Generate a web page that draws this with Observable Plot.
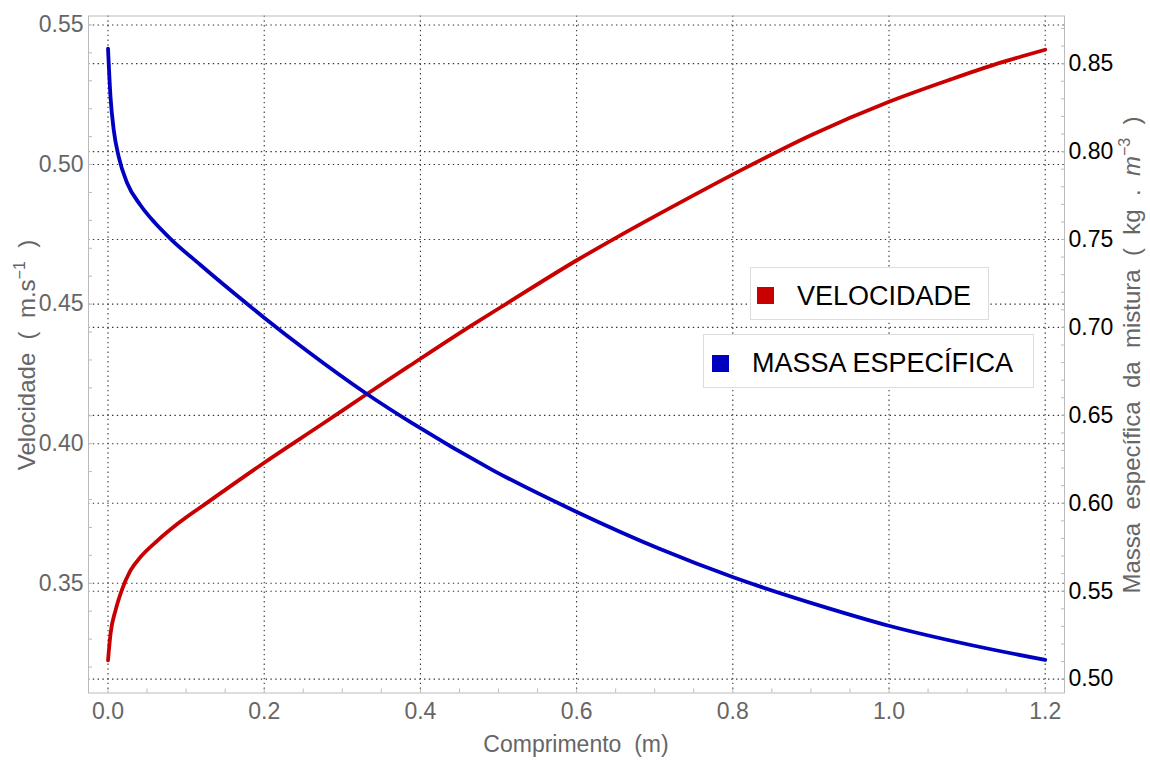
<!DOCTYPE html>
<html><head><meta charset="utf-8">
<script src="https://cdn.jsdelivr.net/npm/d3@7"></script>
<script src="https://cdn.jsdelivr.net/npm/@observablehq/plot@0.6"></script>
<style>
html,body{margin:0;padding:0;background:#fff;}
#wrap{position:relative;width:1150px;height:760px;}
svg text{white-space:pre;}
</style></head><body><div id="wrap"></div>
<script>
// Velocidade (left axis)
const comprimentoV = [0, 0.0032, 0.0096, 0.018, 0.0288, 0.0416, 0.063, 0.0886, 0.127, 0.1995, 0.2763, 0.332, 0.3873, 0.4641, 0.511, 0.6008, 0.652, 0.7288, 0.81, 0.9, 1.0, 1.079, 1.134, 1.2];
const velocidade   = [0.3224, 0.3319, 0.3403, 0.3478, 0.3546, 0.3594, 0.3652, 0.3712, 0.3789, 0.3931, 0.4074, 0.4179, 0.4281, 0.4421, 0.4503, 0.4658, 0.4740, 0.4858, 0.4979, 0.5105, 0.5225, 0.5305, 0.5357, 0.5411];
// Massa específica (right axis)
const comprimentoM = [0, 0.0032, 0.0074, 0.0138, 0.0246, 0.0416, 0.06, 0.08, 0.1184, 0.1654, 0.1995, 0.255, 0.332, 0.3873, 0.4936, 0.6009, 0.7061, 0.8006, 0.9187, 1.001, 1.1046, 1.2];
const massaEspecifica = [0.8585, 0.8309, 0.812, 0.7968, 0.782, 0.7695, 0.7595, 0.7504, 0.7355, 0.7180, 0.7057, 0.6866, 0.6620, 0.6461, 0.6186, 0.5949, 0.5741, 0.5579, 0.5408, 0.5302, 0.5194, 0.5109];

const xTicks = [0, 0.2, 0.4, 0.6, 0.8, 1.0, 1.2];
const velTicks = [0.35, 0.40, 0.45, 0.50, 0.55];
const massaTicks = [0.50, 0.55, 0.60, 0.65, 0.70, 0.75, 0.80, 0.85];
const velMinor = d3.range(0.32, 0.555, 0.01);
const massaMinor = d3.range(0.50, 0.875, 0.01);
const xMinor = d3.range(0, 1.22, 0.05);

const xDomain = [-0.025, 1.2247];
const velDomain = [0.3107, 0.5532];
const massaDomain = [0.4921, 0.8771];

const legendLabels = ["VELOCIDADE", "MASSA ESPECÍFICA"];
const colors = ["#c80000", "#0000c0"];

const toVel = d3.scaleLinear(massaDomain, velDomain);
const velData = comprimentoV.map((x, i) => ({x, v: velocidade[i]}));
const massaData = comprimentoM.map((x, i) => ({x, m: massaEspecifica[i]}));

const font = "'Liberation Sans', Arial, sans-serif";
const grid = {stroke: "#333", strokeDasharray: "1.4,3.4", strokeWidth: 1.1};

const plot = Plot.plot({
  width: 1150, height: 760,
  marginLeft: 88, marginRight: 86, marginTop: 15.5, marginBottom: 67.5,
  x: {domain: xDomain},
  y: {domain: velDomain},
  style: {fontFamily: font, background: "#fff", overflow: "visible"},
  marks: [
    Plot.ruleX(xTicks, grid),
    Plot.ruleY(velTicks, grid),
    Plot.ruleY(massaTicks.map(toVel), grid),
    Plot.frame({stroke: "#bbb", strokeWidth: 1}),
    Plot.axisY(velMinor, {anchor: "left", tickSize: 4, dx: 4, text: null, stroke: "#bbb", label: null}),
    Plot.axisY(massaMinor.map(toVel), {anchor: "right", tickSize: 4, dx: -4, text: null, stroke: "#bbb", label: null}),
    Plot.axisX(xMinor, {anchor: "bottom", tickSize: 4, dy: -4, text: null, stroke: "#bbb", label: null}),
    Plot.line(velData, {x: "x", y: "v", stroke: colors[0], strokeWidth: 3.8, curve: "monotone-x"}),
    Plot.line(massaData, {x: "x", y: d => toVel(d.m), stroke: colors[1], strokeWidth: 3.8, curve: "monotone-x"}),
    Plot.axisY(velTicks, {anchor: "left", tickSize: 0, tickPadding: 5, fontSize: 23, color: "#666", label: null, tickFormat: d3.format(".2f")}),
    Plot.axisY(massaTicks.map(toVel), {anchor: "right", tickSize: 0, tickPadding: 4, fontSize: 23, color: "#000", label: null, tickFormat: v => toVel.invert(v).toFixed(2)}),
    Plot.axisX(xTicks, {anchor: "bottom", tickSize: 0, tickPadding: 10, fontSize: 23, color: "#666", label: null, tickFormat: d3.format(".1f")})
  ]
});
document.getElementById("wrap").appendChild(plot);

const svg = d3.select(plot);
// Axis titles
const lt = svg.append("text").attr("transform", "translate(35,355) rotate(-90)")
  .attr("text-anchor", "middle").attr("fill", "#666").attr("font-size", 24).attr("font-family", font);
lt.append("tspan").text("Velocidade  (  m.s");
lt.append("tspan").attr("font-size", 16).attr("dy", -10).text("−1");
lt.append("tspan").attr("dy", 10).text("  )");

const rt = svg.append("text").attr("transform", "translate(1140,355) rotate(-90)")
  .attr("text-anchor", "middle").attr("fill", "#666").attr("font-size", 24).attr("font-family", font);
rt.append("tspan").text("Massa  específica  da  mistura  (  kg  .  ");
rt.append("tspan").attr("font-style", "italic").text("m");
rt.append("tspan").attr("font-size", 16).attr("dy", -10).text("−3");
rt.append("tspan").attr("dy", 10).text("  )");

svg.append("text").attr("x", 576).attr("y", 752).attr("text-anchor", "middle")
  .attr("fill", "#666").attr("font-size", 23).attr("font-family", font).text("Comprimento  (m)");

// Legend
const legBoxes = [
  {x: 750, y: 267, w: 238, h: 52, sx: 757, sy: 287, tx: 797, ty: 305},
  {x: 703, y: 334, w: 330, h: 53, sx: 712, sy: 355, tx: 752, ty: 372}
];
legBoxes.forEach((b, i) => {
  const g = svg.append("g");
  g.append("rect").attr("x", b.x + 0.5).attr("y", b.y + 0.5).attr("width", b.w).attr("height", b.h)
    .attr("fill", "#fff").attr("stroke", "#ddd");
  g.append("rect").attr("x", b.sx).attr("y", b.sy).attr("width", 17).attr("height", 17).attr("fill", colors[i]);
  g.append("text").attr("x", b.tx).attr("y", b.ty).attr("text-anchor", "start").attr("font-size", 27)
    .attr("font-family", font).attr("fill", "#000").text(legendLabels[i]);
});
</script></body></html>
